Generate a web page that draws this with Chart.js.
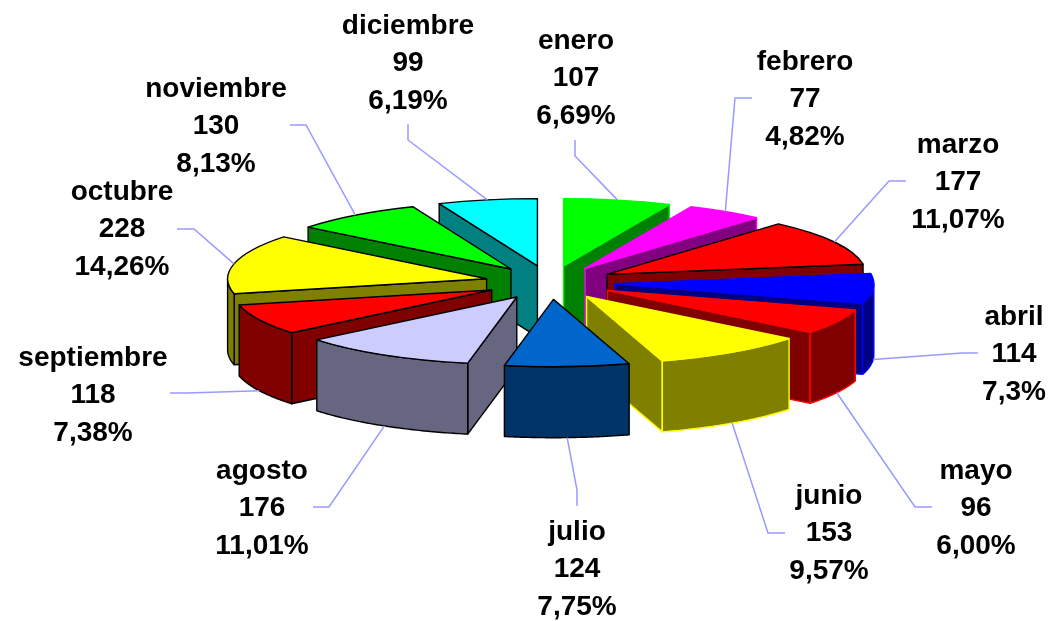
<!DOCTYPE html>
<html>
<head>
<meta charset="utf-8">
<style>
  html, body { margin: 0; padding: 0; background: #ffffff; }
  canvas { display: block; }
</style>
<script src="https://cdn.jsdelivr.net/npm/chart.js@4"></script>
</head>
<body>
<canvas id="pie" width="1053" height="621"></canvas>
<script>
// data
const months = ["enero", "febrero", "marzo", "abril", "mayo", "junio", "julio", "agosto", "septiembre", "octubre", "noviembre", "diciembre"];
const counts = [107, 77, 177, 114, 96, 153, 124, 176, 118, 228, 130, 99];
const percents = ["6,69%", "4,82%", "11,07%", "7,3%", "6,00%", "9,57%", "7,75%", "11,01%", "7,38%", "14,26%", "8,13%", "6,19%"];

// colours
const topColors = ["#00ff00", "#ff00ff", "#ff0000", "#0000ff", "#ff0000", "#ffff00", "#0066cc", "#ccccff", "#ff0000", "#ffff00", "#00ff00", "#00ffff"];
const wallColors = ["#008000", "#800080", "#800000", "#000080", "#800000", "#808000", "#003366", "#666680", "#800000", "#808000", "#008000", "#008080"];
const edgeColors = ["#00ff00", "#ff00ff", "#000000", "#0000ff", "#ff0000", "#ffff00", "#000000", "#000000", "#000000", "#000000", "#000000", "#000000"];

// label centres and leader line starts, in page pixels
const labelX = [576, 805, 958, 1014, 976, 829, 577, 262, 93, 122, 216, 408];
const labelY = [41, 62, 145, 317, 471, 496, 532, 471, 358, 192, 89, 26];
const leaderFrom = [[575, 140], [752, 98], [906, 181], [978, 353], [932, 507], [785, 533], [577, 506], [313, 507], [170, 393], [177, 229], [290, 125], [408, 124]];
const leaderElbow = [[575, 156], [735, 98], [889, 181], [962, 353], [915, 507], [768, 533], [577, 490], [329, 507], [187, 393], [194, 229], [306, 125], [408, 140]];

const flatten = 0.26;  // how much the pie is squashed
const explode = 65;    // how far each slice is pulled out
const depth = 71;      // wall height

function point(arc, angle, radius, drop) {
  const mid = (arc.startAngle + arc.endAngle) / 2;
  return {
    x: arc.x + explode * Math.cos(mid) + radius * Math.cos(angle),
    y: arc.y + flatten * (explode * Math.sin(mid) + radius * Math.sin(angle)) + drop
  };
}

function radialWall(ctx, arc, angle, color, edge) {
  const a = point(arc, 0, 0, 0);
  const b = point(arc, angle, arc.outerRadius, 0);
  ctx.beginPath();
  ctx.moveTo(a.x, a.y);
  ctx.lineTo(b.x, b.y);
  ctx.lineTo(b.x, b.y + depth);
  ctx.lineTo(a.x, a.y + depth);
  ctx.closePath();
  ctx.fillStyle = color;
  ctx.strokeStyle = edge;
  ctx.fill();
  ctx.stroke();
}

// outer curved wall, only the part facing the viewer
function outerWall(ctx, arc, color, edge) {
  const steps = 60;
  let pts = [];
  for (let i = 0; i <= steps; i++) {
    const a = arc.startAngle + (arc.endAngle - arc.startAngle) * i / steps;
    if (Math.sin(a) >= -0.001) pts.push(a);
  }
  if (pts.length < 2) return;

  ctx.beginPath();
  for (let i = 0; i < pts.length; i++) {
    const p = point(arc, pts[i], arc.outerRadius, 0);
    if (i === 0) ctx.moveTo(p.x, p.y);
    else ctx.lineTo(p.x, p.y);
  }
  for (let i = pts.length - 1; i >= 0; i--) {
    const p = point(arc, pts[i], arc.outerRadius, depth);
    ctx.lineTo(p.x, p.y);
  }
  ctx.closePath();
  ctx.fillStyle = color;
  ctx.strokeStyle = edge;
  ctx.fill();
  ctx.stroke();
}

const pie3d = {
  id: "pie3d",
  beforeDatasetsDraw(chart) {
    const ctx = chart.ctx;
    const arcs = chart.getDatasetMeta(0).data.map((arc, i) => ({ arc: arc, i: i }));

    // back slices first
    arcs.sort((p, q) => Math.sin((p.arc.startAngle + p.arc.endAngle) / 2) - Math.sin((q.arc.startAngle + q.arc.endAngle) / 2));

    ctx.save();
    ctx.lineWidth = 1.4;
    ctx.lineJoin = "round";

    for (let n = 0; n < arcs.length; n++) {
      const arc = arcs[n].arc;
      const i = arcs[n].i;
      const mid = (arc.startAngle + arc.endAngle) / 2;

      if (Math.cos(arc.startAngle) < 0) radialWall(ctx, arc, arc.startAngle, wallColors[i], edgeColors[i]);
      if (Math.cos(arc.endAngle) > 0) radialWall(ctx, arc, arc.endAngle, wallColors[i], edgeColors[i]);
      outerWall(ctx, arc, wallColors[i], edgeColors[i]);

      // top face: the library draws the arc, squashed and moved out
      ctx.save();
      ctx.translate(arc.x, arc.y);
      ctx.scale(1, flatten);
      ctx.translate(explode * Math.cos(mid), explode * Math.sin(mid));
      ctx.translate(-arc.x, -arc.y);
      arc.draw(ctx);
      ctx.beginPath();
      ctx.moveTo(arc.x, arc.y);
      ctx.arc(arc.x, arc.y, arc.outerRadius, arc.startAngle, arc.endAngle);
      ctx.closePath();
      ctx.restore();
      ctx.strokeStyle = edgeColors[i];
      ctx.stroke();
    }
    ctx.restore();
    return false;
  },
  afterDraw(chart) {
    const ctx = chart.ctx;
    const arcs = chart.getDatasetMeta(0).data;
    ctx.save();

    // leader lines
    ctx.strokeStyle = "#9999ff";
    ctx.lineWidth = 1.5;
    for (let i = 0; i < arcs.length; i++) {
      const mid = (arcs[i].startAngle + arcs[i].endAngle) / 2;
      const end = point(arcs[i], mid, arcs[i].outerRadius, Math.sin(mid) > 0 ? depth : 0);
      ctx.beginPath();
      ctx.moveTo(leaderFrom[i][0], leaderFrom[i][1]);
      ctx.lineTo(leaderElbow[i][0], leaderElbow[i][1]);
      ctx.lineTo(end.x, end.y);
      ctx.stroke();
    }

    // labels
    ctx.fillStyle = "#000000";
    ctx.font = "bold 28px 'Liberation Sans'";
    ctx.textAlign = "center";
    ctx.textBaseline = "middle";
    for (let i = 0; i < months.length; i++) {
      ctx.fillText(months[i], labelX[i], labelY[i]);
      ctx.fillText(String(counts[i]), labelX[i], labelY[i] + 37.5);
      ctx.fillText(percents[i], labelX[i], labelY[i] + 75);
    }
    ctx.restore();
  }
};

new Chart(document.getElementById("pie"), {
  type: "pie",
  data: {
    labels: months,
    datasets: [{
      data: counts,
      backgroundColor: topColors,
      borderWidth: 0,
      radius: 259
    }]
  },
  options: {
    responsive: false,
    animation: false,
    layout: { padding: { left: 47, bottom: 56 } },
    plugins: {
      legend: { display: false },
      tooltip: { enabled: false }
    }
  },
  plugins: [pie3d]
});
</script>
</body>
</html>
